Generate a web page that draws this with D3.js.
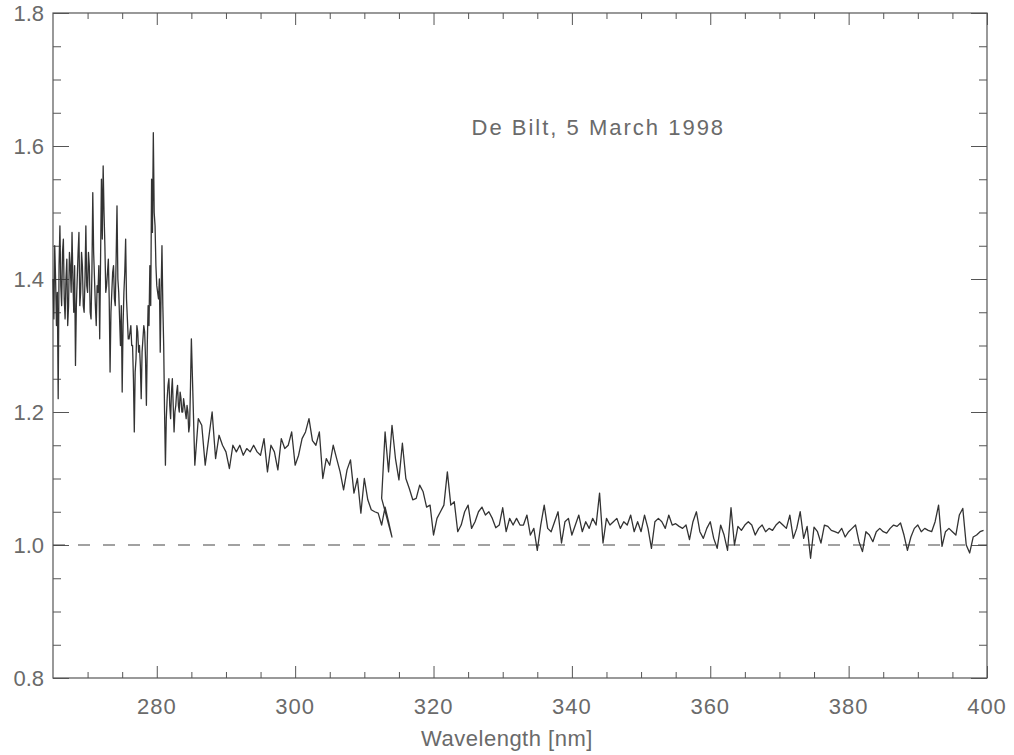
<!DOCTYPE html>
<html>
<head>
<meta charset="utf-8">
<script src="https://cdnjs.cloudflare.com/ajax/libs/d3/7.8.5/d3.min.js"></script>
<style>
  html, body { margin: 0; padding: 0; background: #fff; }
  svg text { font-family: "Liberation Sans", Arial, sans-serif; fill: #6a6a6a; }
</style>
</head>
<body>
<svg id="chart" width="1014" height="755"></svg>
<script>
// ---- Data ----
// Segment A: 265.0 - 285.0 nm, 0.125 nm step
const segAStart = 265.0, segAStep = 0.125;
const segAValues = [
  1.40,1.34,1.45,1.40,1.33,1.38,1.22,1.42,1.48,1.39,1.36,1.44,1.46,1.37,1.34,1.40,
  1.43,1.33,1.36,1.44,1.42,1.38,1.47,1.40,1.35,1.42,1.27,1.36,1.40,1.44,1.47,1.36,
  1.38,1.44,1.42,1.36,1.35,1.40,1.48,1.39,1.38,1.44,1.42,1.35,1.34,1.41,1.53,1.44,
  1.40,1.36,1.33,1.39,1.38,1.42,1.31,1.43,1.55,1.46,1.57,1.50,1.45,1.38,1.39,1.41,
  1.43,1.37,1.26,1.35,1.38,1.41,1.42,1.37,1.36,1.43,1.51,1.40,1.38,1.34,1.30,1.36,
  1.23,1.33,1.38,1.41,1.46,1.37,1.34,1.31,1.31,1.32,1.33,1.30,1.30,1.25,1.17,1.26,
  1.28,1.33,1.32,1.29,1.30,1.27,1.22,1.29,1.31,1.33,1.32,1.28,1.21,1.30,1.36,1.33,
  1.42,1.36,1.55,1.47,1.62,1.50,1.48,1.42,1.39,1.38,1.37,1.40,1.29,1.38,1.45,1.36,
  1.30,1.20,1.12,1.19,1.22,1.24,1.25,1.21,1.19,1.23,1.25,1.21,1.17,1.20,1.21,1.23,
  1.24,1.21,1.20,1.23,1.22,1.20,1.20,1.22,1.21,1.20,1.19,1.21,1.20,1.17,1.18,1.24,
  1.31
];
// Segment B: 285.5 - 314.0 nm, 0.5 nm step
const segBStart = 285.5, segBStep = 0.5;
const segBValues = [
  1.12,1.19,1.18,1.12,1.16,1.20,1.13,1.165,1.15,1.14,1.115,1.15,1.14,1.15,1.135,1.145,
  1.14,1.15,1.14,1.135,1.16,1.11,1.15,1.14,1.113,1.16,1.145,1.15,1.17,1.12,1.135,1.16,
  1.17,1.19,1.157,1.15,1.17,1.10,1.13,1.12,1.15,1.13,1.11,1.083,1.113,1.128,1.078,1.10,
  1.048,1.10,1.068,1.053,1.05,1.048,1.03,1.057,1.035,1.012
];
// Segment C: 312.5 - 399.5 nm, 0.5 nm step (second scan, overlaps B)
const segCStart = 312.5, segCStep = 0.5;
const segCValues = [
  1.07,1.17,1.11,1.18,1.13,1.098,1.153,1.10,1.085,1.068,1.07,1.09,1.08,1.057,1.06,1.015,
  1.04,1.05,1.06,1.11,1.06,1.065,1.02,1.03,1.05,1.06,1.025,1.035,1.05,1.057,1.045,1.05,
  1.04,1.026,1.03,1.056,1.02,1.04,1.03,1.04,1.03,1.03,1.045,1.015,1.025,0.992,1.03,1.06,
  1.025,1.02,1.035,1.05,1.003,1.035,1.04,1.015,1.03,1.045,1.02,1.035,1.025,1.04,1.03,1.078,
  1.003,1.04,1.03,1.035,1.04,1.025,1.035,1.03,1.045,1.02,1.035,1.02,1.045,1.025,0.995,1.035,
  1.04,1.035,1.025,1.045,1.03,1.032,1.028,1.025,1.03,1.008,1.035,1.05,1.02,1.01,1.025,1.035,
  1.01,0.995,1.03,1.015,0.992,1.056,1.00,1.028,1.022,1.03,1.035,1.03,1.015,1.025,1.03,1.02,
  1.025,1.022,1.03,1.035,1.03,1.025,1.045,1.01,1.025,1.05,1.01,1.028,0.98,1.027,1.02,1.003,
  1.03,1.028,1.022,1.02,1.018,1.025,1.012,1.02,1.025,1.03,1.005,0.99,1.02,1.015,1.005,1.02,
  1.025,1.02,1.018,1.025,1.03,1.028,1.033,1.015,0.992,1.012,1.025,1.03,1.02,1.025,1.022,1.02,
  1.035,1.06,0.998,1.02,1.025,1.02,1.015,1.045,1.055,1.00,0.988,1.012,1.015,1.02,1.022
];

const xDomain = [265, 400];
const yDomain = [0.8, 1.8];
const xMajorTicks = [280, 300, 320, 340, 360, 380, 400];
const yMajorTicks = [0.8, 1.0, 1.2, 1.4, 1.6, 1.8];
const referenceLevel = 1.0;
const annotation = "De Bilt, 5 March 1998";
const xTitle = "Wavelength [nm]";

// ---- Build points ----
function seg(start, step, vals) {
  return vals.map((v, i) => ({ w: +(start + i * step).toFixed(3), v }));
}
const points = [].concat(
  seg(segAStart, segAStep, segAValues),
  seg(segBStart, segBStep, segBValues),
  seg(segCStart, segCStep, segCValues)
);

// ---- Layout ----
const L = 53, R = 987, T = 13, B = 678;
const svg = d3.select("#chart");
const x = d3.scaleLinear().domain(xDomain).range([L, R]);
const y = d3.scaleLinear().domain(yDomain).range([B, T]);

const axisColor = "#555";

// Minor tick values
const xMinor = d3.range(270, 400.01, 5).filter(v => !xMajorTicks.includes(v));
const yMinor = d3.range(0.85, 1.8, 0.05).map(v => +v.toFixed(2)).filter(v => !yMajorTicks.some(m => Math.abs(m - v) < 1e-6));

function styleAxis(g) {
  g.select(".domain").remove();
  g.selectAll("line").attr("stroke", axisColor).attr("stroke-width", 1);
}

// Bottom axis: ticks pointing inward
const gxB = svg.append("g").attr("transform", `translate(0,${B})`)
  .call(d3.axisTop(x).tickValues(xMajorTicks).tickSize(12).tickFormat(""));
styleAxis(gxB);
const gxBm = svg.append("g").attr("transform", `translate(0,${B})`)
  .call(d3.axisTop(x).tickValues(xMinor).tickSize(6).tickFormat(""));
styleAxis(gxBm);
// Top axis
const gxT = svg.append("g").attr("transform", `translate(0,${T})`)
  .call(d3.axisBottom(x).tickValues(xMajorTicks).tickSize(12).tickFormat(""));
styleAxis(gxT);
const gxTm = svg.append("g").attr("transform", `translate(0,${T})`)
  .call(d3.axisBottom(x).tickValues(xMinor).tickSize(6).tickFormat(""));
styleAxis(gxTm);
// Left axis
const gyL = svg.append("g").attr("transform", `translate(${L},0)`)
  .call(d3.axisRight(y).tickValues(yMajorTicks).tickSize(16).tickFormat(""));
styleAxis(gyL);
const gyLm = svg.append("g").attr("transform", `translate(${L},0)`)
  .call(d3.axisRight(y).tickValues(yMinor).tickSize(8).tickFormat(""));
styleAxis(gyLm);
// Right axis
const gyR = svg.append("g").attr("transform", `translate(${R},0)`)
  .call(d3.axisLeft(y).tickValues(yMajorTicks).tickSize(16).tickFormat(""));
styleAxis(gyR);
const gyRm = svg.append("g").attr("transform", `translate(${R},0)`)
  .call(d3.axisLeft(y).tickValues(yMinor).tickSize(8).tickFormat(""));
styleAxis(gyRm);

// Frame
svg.append("rect").attr("x", L).attr("y", T).attr("width", R - L).attr("height", B - T)
  .attr("fill", "none").attr("stroke", axisColor).attr("stroke-width", 1.2);

// Tick labels
svg.append("g").selectAll("text").data(xMajorTicks).join("text")
  .attr("x", d => x(d)).attr("y", 714).attr("text-anchor", "middle")
  .attr("font-size", 22).attr("letter-spacing", "1px").text(d => d);
svg.append("g").selectAll("text").data(yMajorTicks).join("text")
  .attr("x", 44).attr("y", d => y(d) + 8).attr("text-anchor", "end")
  .attr("font-size", 22).text(d => d3.format(".1f")(d));

// Axis title
svg.append("text").attr("x", 507).attr("y", 746).attr("text-anchor", "middle")
  .attr("font-size", 22).attr("letter-spacing", "0.5px").text(xTitle);

// Annotation
svg.append("text").attr("x", x(325.5)).attr("y", 135).attr("text-anchor", "start")
  .attr("font-size", 22).attr("letter-spacing", "2px").text(annotation);

// Reference dashed line
svg.append("line")
  .attr("x1", x(xDomain[0])).attr("x2", x(xDomain[1]))
  .attr("y1", y(referenceLevel)).attr("y2", y(referenceLevel))
  .attr("stroke", "#444").attr("stroke-width", 1.1).attr("stroke-dasharray", "12,13");

// Spectrum line
const line = d3.line().x(d => x(d.w)).y(d => y(d.v));
svg.append("path").datum(points)
  .attr("d", line).attr("fill", "none")
  .attr("stroke", "#333").attr("stroke-width", 1.3).attr("stroke-linejoin", "round");
</script>
</body>
</html>
